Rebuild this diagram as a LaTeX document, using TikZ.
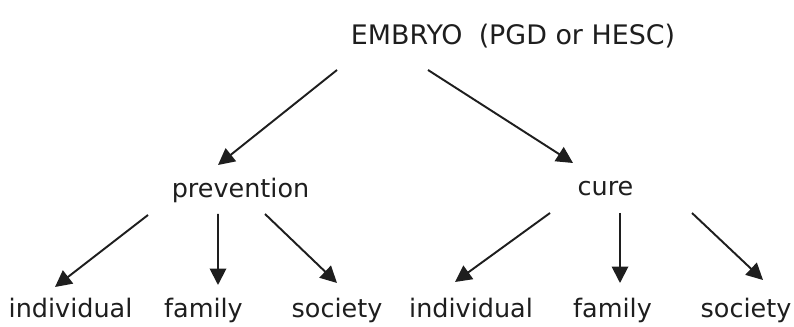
\documentclass[tikz,border=0pt]{standalone}
\usepackage{fontspec}
\setmainfont{DejaVu Sans}
\usetikzlibrary{arrows.meta}
\definecolor{ink}{HTML}{1E1E1E}
\begin{document}
\begin{tikzpicture}[x=0.02cm, y=-0.02cm,
        lbl/.style={anchor=base, inner sep=0pt, text=ink,
                    font=\fontsize{14.5}{17}\selectfont},
        arr/.style={-{Triangle[length=3.3mm,width=3.3mm]}, line width=1.1pt, draw=ink}]
        \useasboundingbox (0,0) rectangle (794,327);

        \node[lbl, font=\fontsize{15.3}{18}\selectfont] (embryo) at (513,45) {EMBRYO\hspace{0.6em}(PGD or HESC)};

        \node[lbl] (prev) at (240.5,198) {prevention};
        \node[lbl] (cure) at (605.5,196) {cure};

        \node[lbl] (ind1) at (70.5,317) {individual};
        \node[lbl] (fam1) at (203.5,317) {family};
        \node[lbl] (soc1) at (337,317) {society};
        \node[lbl] (ind2) at (471,317) {individual};
        \node[lbl] (fam2) at (612.5,317) {family};
        \node[lbl] (soc2) at (746,317) {society};

        \draw[arr] ([shift={(-176,25)}]embryo.base) -- ([shift={(-22.5,-33)}]prev.base);
        \draw[arr] ([shift={(-85,25)}]embryo.base) -- ([shift={(-32.5,-33)}]cure.base);

        \draw[arr] ([shift={(-92.5,17)}]prev.base) -- ([shift={(-15.5,-30)}]ind1.base);
        \draw[arr] ([shift={(-22.5,16)}]prev.base) -- ([shift={(14.5,-32)}]fam1.base);
        \draw[arr] ([shift={(24.5,16)}]prev.base) -- ([shift={(0,-34)}]soc1.base);

        \draw[arr] ([shift={(-55.5,17)}]cure.base) -- ([shift={(-16,-35)}]ind2.base);
        \draw[arr] ([shift={(14.5,17)}]cure.base) -- ([shift={(7.5,-34)}]fam2.base);
        \draw[arr] ([shift={(86.5,17)}]cure.base) -- ([shift={(17,-37)}]soc2.base);
    \end{tikzpicture}
\end{document}
